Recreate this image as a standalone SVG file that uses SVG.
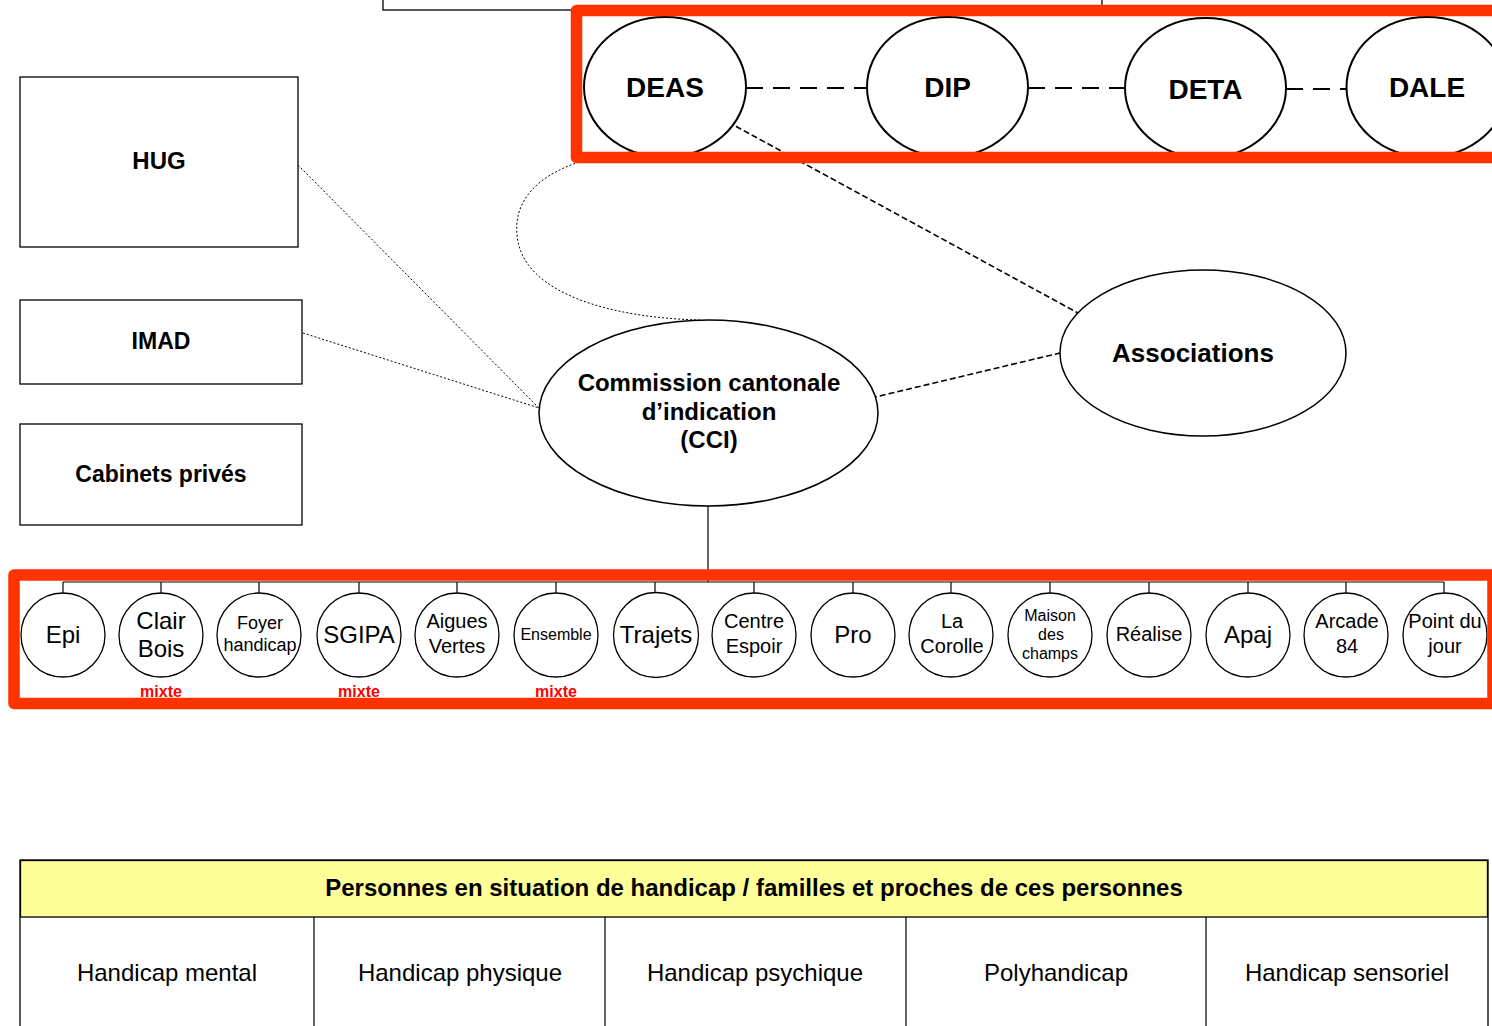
<svg xmlns="http://www.w3.org/2000/svg" width="1492" height="1026" viewBox="0 0 1492 1026">
<style>
text{font-family:"Liberation Sans",Arial,sans-serif;text-anchor:middle;fill:#000}
.b{font-weight:bold}
.box{fill:#fff;stroke:#000;stroke-width:1.3}
.top{fill:#fff;stroke:#000;stroke-width:2}
.ell{fill:#fff;stroke:#000;stroke-width:1.5}
.c{fill:#fff;stroke:#000;stroke-width:1.3}
.red{fill:none;stroke:#ff3300;stroke-width:11.5;stroke-linejoin:round}
.dash{stroke:#000;stroke-width:2;stroke-dasharray:17 10;fill:none}
.sdash{stroke:#000;stroke-width:1.6;stroke-dasharray:6 3;fill:none}
.dot{stroke:#000;stroke-width:1;stroke-dasharray:2 2;fill:none}
.ln{stroke:#000;stroke-width:1.2;fill:none}
.mx{fill:#ff0000;font-weight:bold;font-size:16px}
</style>
<rect width="1492" height="1026" fill="#fff"/>
<g id="top-box"><rect x="383" y="-60" width="719" height="70" class="box"/></g>
<g id="connectors">
<line x1="746" y1="88" x2="867" y2="88" class="dash"/>
<line x1="1028" y1="88" x2="1125" y2="88" class="dash"/>
<line x1="1286" y1="89" x2="1347" y2="89" class="dash"/>
<line x1="728" y1="122" x2="1078" y2="313" class="sdash"/>
<line x1="871" y1="398" x2="1060" y2="353" class="sdash"/>
<line x1="298" y1="165" x2="539" y2="408" class="dot"/>
<line x1="303" y1="333" x2="539" y2="408" class="dot"/>
<path d="M630 152 C565 158 512 185 517 235 C522 295 615 318 700 320" class="dot"/>
<line x1="708" y1="506" x2="708" y2="582" class="ln"/>
<line x1="63" y1="582" x2="1444" y2="582" class="ln"/>
<path d="M63 582V593M161 582V593M259 582V593M359 582V593M457 582V593M556 582V593M655 582V593M754 582V593M853 582V593M951 582V593M1050 582V593M1149 582V593M1248 582V593M1346 582V593M1444 582V593" class="ln"/>
</g>
<g id="deas"><ellipse cx="665" cy="87" rx="81" ry="70" class="top"/><text x="665" y="97" class="b" font-size="28">DEAS</text></g>
<g id="dip"><ellipse cx="947.5" cy="87" rx="80.5" ry="70" class="top"/><text x="947.5" y="97" class="b" font-size="28">DIP</text></g>
<g id="deta"><ellipse cx="1205.5" cy="88" rx="80.5" ry="70" class="top"/><text x="1205.5" y="99" class="b" font-size="28">DETA</text></g>
<g id="dale"><ellipse cx="1427" cy="87" rx="80.5" ry="70" class="top"/><text x="1427" y="97" class="b" font-size="28">DALE</text></g>
<g id="hug"><rect x="20" y="77" width="278" height="170" class="box"/><text x="159" y="169" class="b" font-size="24">HUG</text></g>
<g id="imad"><rect x="20" y="300" width="282" height="84" class="box"/><text x="161" y="349" class="b" font-size="23">IMAD</text></g>
<g id="cabinets"><rect x="20" y="424" width="282" height="101" class="box"/><text x="161" y="482" class="b" font-size="23">Cabinets privés</text></g>
<g id="cci"><ellipse cx="708.5" cy="413" rx="169.5" ry="93" class="ell"/>
<text x="709" y="391" class="b" font-size="24">Commission cantonale</text>
<text x="709" y="420" class="b" font-size="24">d’indication</text>
<text x="709" y="448" class="b" font-size="24">(CCI)</text></g>
<g id="associations"><ellipse cx="1203" cy="353" rx="143" ry="83" class="ell"/><text x="1193" y="362" class="b" font-size="26">Associations</text></g>
<g id="epi"><circle cx="63" cy="635" r="42" class="c"/><text x="63" y="643" font-size="24">Epi</text></g>
<g id="clair-bois"><circle cx="161" cy="635" r="42" class="c"/><text x="161" y="629" font-size="24">Clair</text><text x="161" y="657" font-size="24">Bois</text></g>
<g id="foyer"><circle cx="259" cy="635" r="42" class="c"/><text x="260" y="629" font-size="18">Foyer</text><text x="260" y="651" font-size="18">handicap</text></g>
<g id="sgipa"><circle cx="359" cy="635" r="42" class="c"/><text x="359" y="643" font-size="24">SGIPA</text></g>
<g id="aigues"><circle cx="457" cy="635" r="42" class="c"/><text x="457" y="628" font-size="20">Aigues</text><text x="457" y="653" font-size="20">Vertes</text></g>
<g id="ensemble"><circle cx="556" cy="635" r="42" class="c"/><text x="556" y="640" font-size="16">Ensemble</text></g>
<g id="trajets"><circle cx="656" cy="635" r="42.5" class="c"/><text x="656" y="643" font-size="24">Trajets</text></g>
<g id="centre"><circle cx="754" cy="635" r="42" class="c"/><text x="754" y="628" font-size="20">Centre</text><text x="754" y="653" font-size="20">Espoir</text></g>
<g id="pro"><circle cx="853" cy="635" r="42" class="c"/><text x="853" y="643" font-size="24">Pro</text></g>
<g id="corolle"><circle cx="951" cy="635" r="42" class="c"/><text x="952" y="628" font-size="20">La</text><text x="952" y="653" font-size="20">Corolle</text></g>
<g id="maison"><circle cx="1050" cy="635" r="42" class="c"/><text x="1050" y="621" font-size="16">Maison</text><text x="1051" y="640" font-size="16">des</text><text x="1050" y="659" font-size="16">champs</text></g>
<g id="realise"><circle cx="1149" cy="635" r="42" class="c"/><text x="1149" y="641" font-size="20">Réalise</text></g>
<g id="apaj"><circle cx="1248" cy="635" r="42" class="c"/><text x="1248" y="643" font-size="24">Apaj</text></g>
<g id="arcade"><circle cx="1346" cy="635" r="42" class="c"/><text x="1347" y="628" font-size="20">Arcade</text><text x="1347" y="653" font-size="20">84</text></g>
<g id="point"><circle cx="1445" cy="635" r="42" class="c"/><text x="1445" y="628" font-size="20">Point du</text><text x="1445" y="653" font-size="20">jour</text></g>
<rect x="576.5" y="10.5" width="960" height="147" class="red"/>
<rect x="14" y="575" width="1479" height="128.5" class="red"/>
<g id="mixte-labels">
<text x="161" y="697" class="mx">mixte</text>
<text x="359" y="697" class="mx">mixte</text>
<text x="556" y="697" class="mx">mixte</text>
</g>
<g id="table">
<rect x="20" y="860" width="1468" height="200" class="box"/>
<rect x="20.5" y="860.5" width="1467" height="56.5" fill="#ffff99" stroke="#000" stroke-width="1.3"/>
<text x="754" y="896" class="b" font-size="24">Personnes en situation de handicap / familles et proches de ces personnes</text>
<path d="M314 917V1026M605 917V1026M906 917V1026M1206 917V1026" class="ln"/>
<text x="167" y="981" font-size="24">Handicap mental</text>
<text x="460" y="981" font-size="24">Handicap physique</text>
<text x="755" y="981" font-size="24">Handicap psychique</text>
<text x="1056" y="981" font-size="24">Polyhandicap</text>
<text x="1347" y="981" font-size="24">Handicap sensoriel</text>
</g>
</svg>
